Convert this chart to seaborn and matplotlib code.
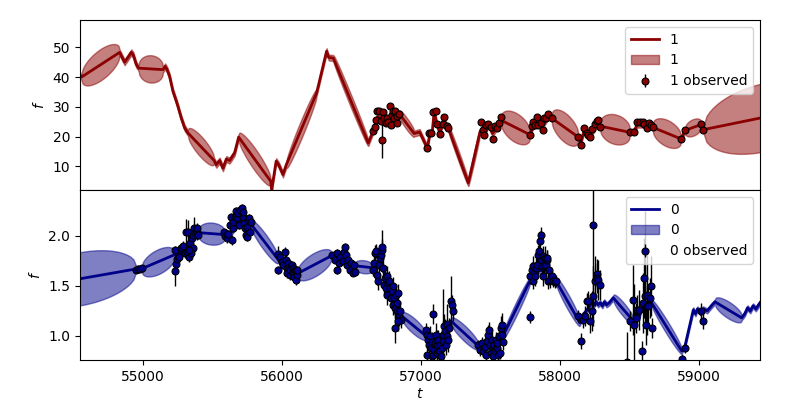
import numpy as np
import matplotlib
matplotlib.use("Agg")
import matplotlib.pyplot as plt
import seaborn as sns

# ---- channel 1 (top): predicted mean knots ----
TOP_T = [54530, 54556, 54830, 54866, 54890, 54914, 54928, 54950, 54967,
         55142, 55158, 55172, 55190, 55214, 55238, 55250, 55274, 55298, 55322,
         55509, 55526, 55550, 55574, 55598, 55622, 55658, 55687,
         55917, 55925, 55957, 55975, 56006, 56030,
         56248, 56320, 56335, 56368,
         56620, 56656, 56685, 56750, 56800, 56843,
         56950, 56990, 57045,
         57064, 57080, 57095, 57112, 57136, 57160, 57196,
         57340, 57424,
         57445, 57455, 57484, 57515, 57565, 57575,
         57784, 57808, 57844, 57875, 57916, 57940,
         58132, 58151, 58173, 58216, 58268, 58288,
         58504, 58533, 58557, 58605, 58667,
         58871, 58902, 59015, 59032, 59900]
TOP_F = [41.5, 40.0, 48.3, 45.0, 46.6, 48.3, 47.5, 44.2, 43.0,
         42.5, 43.6, 42.5, 40.2, 35.2, 31.9, 30.1, 26.2, 22.9, 21.2,
         12.0, 10.5, 11.9, 9.3, 12.4, 11.9, 14.5, 19.8,
         5.0, 2.2, 11.7, 10.5, 7.2, 10.5,
         34.6, 48.7, 46.6, 46.4,
         17.8, 22.0, 26.5, 26.0, 27.0, 27.7,
         21.0, 21.5, 16.1,
         21.2, 21.3, 28.5, 24.5, 21.0, 25.5, 22.9,
         4.4, 21.5,
         23.0, 21.0, 24.0, 21.0, 24.5, 25.5,
         20.6, 24.0, 24.0, 23.5, 27.0, 26.2,
         19.8, 18.0, 22.0, 20.0, 24.5, 23.5,
         21.4, 21.8, 24.0, 24.0, 23.1,
         19.2, 22.1, 24.0, 22.3, 30.6]
# gaps without data: start of gap and extra spread in the middle of it
TOP_GAP_T = [54556, 54967, 55322, 55687, 56030, 56368, 56843, 57196, 57340,
             57575, 57940, 58288, 58667, 58902, 59032]
TOP_GAP_W = [4.3, 3.6, 2.6, 2.8, 2.2, 1.2, 1.0, 0.8, 0.8,
             4.0, 4.0, 4.0, 3.5, 1.8, 10.5]
TOP_BASE_W = 1.0

# ---- channel 1 observations ----
TOP_OBS_T = [56656, 56668, 56675, 56685, 56699, 56711, 56716, 56723, 56733, 56747, 56757,
             56764, 56776, 56781, 56788, 56795, 56807, 56812, 56824, 56829, 56843,
             57045, 57059, 57069, 57088, 57105, 57112, 57136, 57155, 57165, 57184, 57196,
             57431, 57443, 57453, 57467, 57484, 57501, 57515, 57532, 57548, 57563, 57575,
             57784, 57796, 57808, 57820, 57832, 57844, 57861, 57875, 57885, 57899, 57916, 57940,
             58132, 58151, 58173, 58192, 58204, 58216, 58228, 58252, 58268, 58276, 58288,
             58504, 58533, 58557, 58576, 58595, 58605, 58624, 58643, 58653, 58667,
             58871, 58902, 59015, 59032]
TOP_OBS_F = [22.0, 23.1, 25.7, 28.5, 28.7, 25.1, 18.7, 28.3, 26.2, 24.5, 26.2,
             24.9, 30.2, 24.0, 27.4, 28.5, 26.2, 28.7, 24.5, 26.8, 27.7,
             16.1, 21.2, 21.3, 28.3, 28.7, 24.2, 20.9, 24.2, 26.5, 23.4, 22.9,
             24.9, 22.3, 20.6, 23.8, 24.2, 23.1, 19.3, 23.5, 22.9, 24.5, 26.5,
             20.6, 23.4, 24.9, 24.0, 26.5, 23.8, 24.5, 22.3, 26.2, 26.2, 27.6, 26.2,
             19.8, 17.1, 22.9, 21.2, 20.6, 19.8, 22.6, 24.2, 25.3, 25.7, 23.1,
             21.4, 21.6, 24.8, 24.8, 24.8, 24.2, 22.9, 24.5, 23.8, 23.1,
             19.2, 22.1, 24.2, 22.1]
TOP_OBS_E = [0.6, 0.6, 0.6, 0.6, 0.6, 0.6, 6.0, 0.6, 0.6, 0.6, 0.6,
             0.6, 0.6, 0.6, 0.6, 0.6, 0.6, 0.6, 0.6, 0.6, 0.6,
             0.6, 0.6, 0.6, 0.6, 0.6, 0.6, 0.6, 0.6, 0.6, 0.6, 0.6,
             0.6, 0.6, 0.6, 0.6, 0.6, 0.6, 0.6, 0.6, 0.6, 0.6, 0.6,
             0.6, 0.6, 0.6, 0.6, 0.6, 0.6, 0.6, 0.6, 0.6, 0.6, 0.6, 0.6,
             0.6, 0.6, 0.6, 0.6, 0.6, 0.6, 0.6, 0.6, 0.6, 0.6, 0.6,
             0.6, 0.6, 0.6, 0.6, 0.6, 1.5, 0.6, 0.6, 0.6, 0.6,
             0.6, 0.6, 0.6, 0.6]

# ---- channel 0 (bottom): predicted mean knots ----
BOT_T = [54150, 54950, 54990, 55226, 55300, 55350, 55396,
         55590, 55640, 55700, 55773,
         55972, 56030, 56108,
         56356, 56430, 56524,
         56650, 56700, 56760, 56820, 56860,
         57035, 57100, 57180, 57215,
         57412, 57500, 57590,
         57784, 57850, 57910, 57971,
         58144, 58160, 58190, 58215, 58230, 58245, 58260, 58275, 58290, 58305, 58320, 58335, 58355, 58384,
         58528, 58550, 58570, 58590, 58610, 58630, 58660,
         58876, 58900, 58960, 58975, 58990, 59010, 59030, 59060, 59090, 59116,
         59308, 59330, 59350, 59370, 59390, 59410, 59440]
BOT_F = [1.474, 1.668, 1.67, 1.81, 1.88, 1.95, 2.03,
         2.01, 2.04, 2.15, 2.12,
         1.76, 1.70, 1.62,
         1.80, 1.76, 1.70,
         1.68, 1.72, 1.57, 1.36, 1.20,
         1.00, 0.93, 0.98, 1.15,
         0.90, 0.88, 1.00,
         1.55, 1.65, 1.66, 1.55,
         1.13, 1.20, 1.25, 1.30, 1.33, 1.31, 1.34, 1.31, 1.33, 1.30, 1.34, 1.31, 1.33, 1.38,
         1.15, 1.22, 1.18, 1.30, 1.22, 1.32, 1.33,
         0.85, 0.90, 1.26, 1.22, 1.27, 1.23, 1.27, 1.25, 1.30, 1.34,
         1.18, 1.22, 1.28, 1.25, 1.30, 1.27, 1.33]
BOT_GAP_T = [54150, 54990, 55396, 55773, 56108, 56524, 56860, 57215, 57590,
             57971, 58384, 58660, 59116]
BOT_GAP_W = [0.24, 0.10, 0.085, 0.065, 0.095, 0.04, 0.055, 0.055, 0.045,
             0.055, 0.045, 0.045, 0.06]
BOT_BASE_W = 0.025

# ---- channel 0 observations ----
BOT_OBS_T = [54950, 54965, 54978, 54990,
             55228, 55235, 55245, 55252, 55228, 55259, 55269, 55288, 55300, 55312, 55327, 55307,
             55324, 55336, 55348, 55355, 55360, 55365, 55372, 55384, 55389, 55396, 55341, 55333,
             55581, 55588, 55600, 55612, 55624, 55629, 55636, 55643, 55648, 55660, 55667, 55676,
             55684, 55691, 55696, 55708, 55715, 55720, 55724, 55732, 55739, 55744, 55748, 55756,
             55763, 55768, 55773,
             55972, 55972, 55984, 55996, 56008, 56020, 56027, 56032, 56036, 56044, 56051, 56056,
             56060, 56068, 56075, 56080, 56084, 56092, 56099, 56104, 56108,
             56356, 56380, 56392, 56396, 56411, 56420, 56435, 56445, 56452, 56459, 56469, 56476,
             56488, 56493, 56507, 56516, 56524,
             56656, 56661, 56668, 56675, 56685, 56692, 56699, 56704, 56711, 56716, 56721, 56728,
             56733, 56740, 56747, 56752, 56757, 56764, 56771, 56776, 56781, 56788, 56795, 56800,
             56805, 56812, 56819, 56824, 56829, 56836, 56843, 56848, 56812, 56853, 56831,
             57035, 57040, 57045, 57052, 57059, 57064, 57069, 57076, 57076, 57083, 57088, 57093,
             57100, 57107, 57112, 57117, 57124, 57131, 57136, 57141, 57148, 57155, 57160, 57165,
             57172, 57179, 57184, 57189, 57196, 57203, 57213, 57220, 57227,
             57412, 57424, 57436, 57448, 57460, 57467, 57477, 57484, 57491, 57496, 57501, 57508,
             57515, 57520, 57525, 57532, 57539, 57544, 57549, 57556, 57563, 57568, 57573, 57580,
             57587, 57582,
             57784, 57784, 57796, 57803, 57808, 57813, 57820, 57827, 57837, 57844, 57851, 57856,
             57861, 57866, 57870, 57875, 57880, 57885, 57892, 57899, 57904, 57909, 57916, 57923,
             57928, 57940, 57952, 57964, 57971,
             58132, 58149, 58164, 58180, 58197, 58204, 58216, 58228, 58235, 58240, 58252, 58264,
             58268, 58276, 58288,
             58480, 58504, 58528, 58535, 58547, 58557, 58571, 58588, 58595, 58605, 58612, 58612,
             58619, 58624, 58629, 58636, 58648, 58653, 58660,
             58876, 58900, 59013, 59032]
BOT_OBS_F = [1.66, 1.67, 1.665, 1.675,
             1.651, 1.721, 1.768, 1.824, 1.857, 1.79, 1.874, 1.90, 1.824, 1.84, 1.79, 2.034,
             2.04, 1.924, 1.974, 1.874, 2.007, 2.074, 2.024, 2.04, 2.08, 2.007, 1.824, 1.857,
             2.04, 2.0, 1.974, 2.014, 2.107, 2.19, 1.957, 2.074, 2.134, 2.19, 2.246, 2.173,
             2.223, 2.107, 2.256, 2.273, 2.19, 2.233, 2.124, 2.074, 2.007, 1.99, 2.09, 2.157,
             2.173, 2.04, 2.14,
             1.658, 1.82, 1.79, 1.741, 1.708, 1.84, 1.758, 1.675, 1.625, 1.725, 1.691, 1.608,
             1.658, 1.708, 1.625, 1.675, 1.591, 1.658, 1.558, 1.608, 1.658,
             1.807, 1.758, 1.658, 1.824, 1.725, 1.79, 1.748, 1.84, 1.89, 1.807, 1.708, 1.758,
             1.658, 1.725, 1.625, 1.708, 1.635,
             1.661, 1.728, 1.828, 1.844, 1.611, 1.545, 1.711, 1.778, 1.811, 1.861, 1.884, 1.678,
             1.511, 1.578, 1.479, 1.595, 1.412, 1.528, 1.545, 1.479, 1.379, 1.445, 1.495, 1.312,
             1.379, 1.279, 1.412, 1.329, 1.246, 1.429, 1.196, 1.246, 1.08, 1.163, 1.146,
             1.063, 0.813, 1.013, 0.963, 0.913, 0.997, 0.88, 0.94, 0.797, 0.813, 1.219, 0.863,
             0.93, 1.013, 0.83, 0.913, 0.963, 0.847, 0.913, 0.797, 0.88, 0.947, 1.013, 1.097,
             1.047, 0.913, 1.12, 0.997, 0.963, 1.08, 1.346, 1.312, 1.246,
             0.913, 0.863, 0.93, 0.847, 0.887, 0.813, 0.947, 1.013, 1.063, 0.913, 0.83, 0.963,
             0.88, 0.797, 0.913, 0.847, 0.963, 0.88, 0.93, 0.813, 0.997, 0.83, 1.08, 1.113,
             0.94, 1.013,
             1.595, 1.186, 1.661, 1.695, 1.545, 1.628, 1.595, 1.678, 1.711, 1.811, 1.844, 1.944,
             2.01, 1.761, 1.695, 1.794, 1.595, 1.711, 1.778, 1.711, 1.761, 1.778, 1.545, 1.661,
             1.561, 1.595, 1.551, 1.538, 1.545,
             1.196, 0.947, 1.163, 1.196, 1.352, 1.346, 1.146, 1.246, 1.396, 2.103, 1.551, 1.618,
             1.578, 1.561, 1.511,
             0.74, 1.146, 1.362, 1.113, 1.18, 1.262, 1.262, 0.847, 1.329, 1.578, 1.396, 1.844,
             1.113, 1.296, 1.412, 1.296, 1.379, 1.495, 1.08,
             0.77, 0.88, 1.246, 1.146]
BOT_OBS_E = [0.03, 0.04, 0.03, 0.03,
             0.15, 0.06, 0.05, 0.05, 0.04, 0.05, 0.04, 0.05, 0.05, 0.06, 0.05, 0.13,
             0.12, 0.06, 0.05, 0.05, 0.06, 0.11, 0.06, 0.08, 0.05, 0.04, 0.05, 0.05,
             0.03, 0.03, 0.05, 0.04, 0.04, 0.04, 0.05, 0.04, 0.04, 0.04, 0.04, 0.04,
             0.05, 0.04, 0.04, 0.04, 0.04, 0.04, 0.05, 0.04, 0.04, 0.04, 0.04, 0.05,
             0.04, 0.04, 0.04,
             0.04, 0.08, 0.05, 0.05, 0.04, 0.05, 0.05, 0.05, 0.05, 0.05, 0.05, 0.05,
             0.05, 0.04, 0.05, 0.05, 0.04, 0.05, 0.05, 0.05, 0.04,
             0.03, 0.03, 0.04, 0.04, 0.03, 0.04, 0.03, 0.04, 0.04, 0.03, 0.03, 0.03,
             0.03, 0.03, 0.03, 0.03, 0.03,
             0.06, 0.07, 0.08, 0.07, 0.10, 0.09, 0.10, 0.12, 0.10, 0.20, 0.08, 0.10,
             0.10, 0.09, 0.10, 0.10, 0.10, 0.10, 0.10, 0.09, 0.10, 0.10, 0.09, 0.10,
             0.10, 0.10, 0.10, 0.10, 0.10, 0.09, 0.10, 0.10, 0.15, 0.08, 0.10,
             0.07, 0.10, 0.08, 0.10, 0.10, 0.10, 0.12, 0.10, 0.10, 0.10, 0.10, 0.10,
             0.10, 0.12, 0.10, 0.15, 0.10, 0.10, 0.12, 0.10, 0.10, 0.20, 0.45, 0.12,
             0.12, 0.10, 0.20, 0.10, 0.12, 0.10, 0.25, 0.10, 0.10,
             0.05, 0.06, 0.06, 0.06, 0.07, 0.06, 0.08, 0.10, 0.08, 0.07, 0.06, 0.08,
             0.07, 0.06, 0.07, 0.06, 0.08, 0.07, 0.08, 0.06, 0.10, 0.06, 0.12, 0.12,
             0.08, 0.10,
             0.08, 0.06, 0.08, 0.10, 0.08, 0.08, 0.10, 0.10, 0.12, 0.10, 0.10, 0.10,
             0.08, 0.10, 0.12, 0.10, 0.10, 0.10, 0.12, 0.10, 0.10, 0.08, 0.08, 0.10,
             0.08, 0.06, 0.06, 0.06, 0.06,
             0.06, 0.08, 0.08, 0.10, 0.08, 0.10, 0.12, 0.20, 0.30, 0.70, 0.25, 0.15,
             0.15, 0.20, 0.15,
             0.30, 0.10, 0.35, 0.40, 0.15, 0.15, 0.20, 0.10, 0.30, 0.40, 0.30, 0.40,
             0.20, 0.20, 0.40, 0.20, 0.20, 0.30, 0.10,
             0.05, 0.05, 0.08, 0.08]


def band(knot_t, knot_f, gap_t, gap_w, base):
    # mean is straight between knots, spread swells inside the data gaps
    spread = dict(zip(gap_t, gap_w))
    ts, lo, hi = [], [], []
    for i in range(len(knot_t) - 1):
        s = np.linspace(0, 1, 40)
        t = knot_t[i] + s * (knot_t[i + 1] - knot_t[i])
        m = knot_f[i] + s * (knot_f[i + 1] - knot_f[i])
        w = base + spread.get(knot_t[i], 0.0) * 2 * np.sqrt(s * (1 - s))
        ts.append(t)
        lo.append(m - w)
        hi.append(m + w)
    return np.concatenate(ts), np.concatenate(lo), np.concatenate(hi)


fig, (ax1, ax2) = plt.subplots(2, 1, figsize=(8, 4), dpi=100, sharex=True)
fig.subplots_adjust(left=0.1, right=0.95, top=0.95, bottom=0.1, hspace=0)

panels = [
    (ax1, "1", "darkred", TOP_T, TOP_F, TOP_GAP_T, TOP_GAP_W, TOP_BASE_W,
     TOP_OBS_T, TOP_OBS_F, TOP_OBS_E),
    (ax2, "0", "darkblue", BOT_T, BOT_F, BOT_GAP_T, BOT_GAP_W, BOT_BASE_W,
     BOT_OBS_T, BOT_OBS_F, BOT_OBS_E),
]

for ax, name, col, kt, kf, gt, gw, base, ot, of, oe in panels:
    sns.lineplot(x=kt, y=kf, ax=ax, color=col, lw=2, label=name)
    bt, blo, bhi = band(kt, kf, gt, gw, base)
    ax.fill_between(bt, blo, bhi, color=col, alpha=0.5, label=name)
    ax.errorbar(ot, of, yerr=oe, fmt="o", color=col, ms=5, mec="black",
                mew=0.8, ecolor="black", elinewidth=1, label=name + " observed")
    ax.set_ylabel("$f$")
    ax.legend(loc="upper right")

ax1.set_ylim(2.0, 59.2)
ax2.set_ylim(0.76, 2.455)
ax2.set_xlim(54545, 59440)
ax2.set_xlabel("$t$", labelpad=2)

plt.savefig("out.png")
